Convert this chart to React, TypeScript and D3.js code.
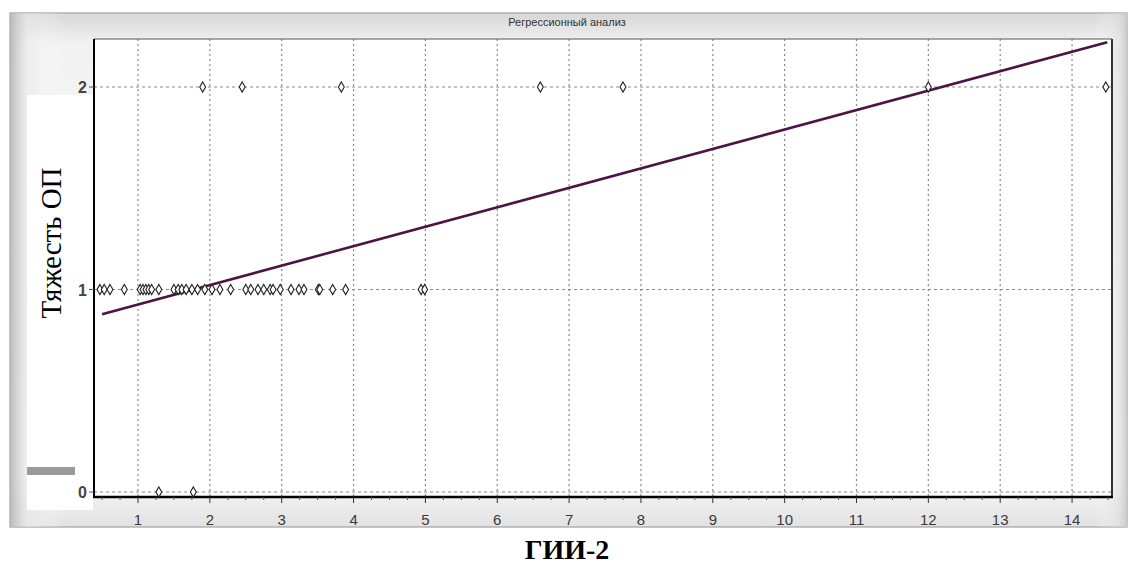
import React from "react";
import * as d3 from "d3";

const TITLE = "Регрессионный анализ";
const Y_LABEL = "Тяжесть ОП";
const X_LABEL = "ГИИ-2";

const xTicks = [1, 2, 3, 4, 5, 6, 7, 8, 9, 10, 11, 12, 13, 14];
const yTicks = [0, 1, 2];

const pointsY2 = [1.9, 2.45, 3.83, 6.6, 7.75, 12.0, 14.47];
const pointsY0 = [1.29, 1.77];
const pointsY1 = [
  0.47, 0.53, 0.61, 0.81, 1.03, 1.07, 1.11, 1.15, 1.19, 1.29, 1.5, 1.56, 1.61,
  1.67, 1.75, 1.83, 1.93, 2.03, 2.14, 2.29, 2.5, 2.57, 2.67, 2.75, 2.84, 2.88,
  2.98, 3.13, 3.24, 3.31, 3.51, 3.53, 3.71, 3.89, 4.94, 4.99,
];

const regIntercept = 0.83;
const regSlope = 0.096;
const regRange = [0.5, 14.49];

export default function App() {
  const left = 94, right = 1112, top = 39, bottom = 497;
  const x = d3.scaleLinear().domain([0.3876, 14.556]).range([left, right]);
  const y = d3.scaleLinear().domain([0, 2]).range([492, 87]);

  const pts = [
    ...pointsY1.map((v) => [v, 1]),
    ...pointsY2.map((v) => [v, 2]),
    ...pointsY0.map((v) => [v, 0]),
  ];
  const diamond = d3.symbol().type(d3.symbolDiamond).size(30)();
  const line = d3
    .line<number>()
    .x((d) => x(d))
    .y((d) => y(regIntercept + regSlope * d));

  const minorTicks: number[] = [];
  for (let v = 0.5; v <= 14.5; v += 0.25) {
    if (Math.abs(v - Math.round(v)) > 0.01) minorTicks.push(v);
  }

  return (
    <div style={{ position: "absolute", left: 0, top: 0 }}>
      <svg width={1135} height={580} style={{ display: "block", background: "#fff" }}>
        <defs>
          <linearGradient id="pv" x1="0" y1="0" x2="0" y2="1">
            <stop offset="0" stopColor="#d6d6d6" />
            <stop offset="0.06" stopColor="#f2f2f2" />
            <stop offset="0.9" stopColor="#fafafa" />
            <stop offset="1" stopColor="#e2e2e2" />
          </linearGradient>
          <linearGradient id="ph" x1="0" y1="0" x2="1" y2="0">
            <stop offset="0" stopColor="#b5b5b5" stopOpacity="0.9" />
            <stop offset="0.015" stopColor="#e8e8e8" stopOpacity="0.6" />
            <stop offset="0.05" stopColor="#ffffff" stopOpacity="0" />
            <stop offset="0.97" stopColor="#ffffff" stopOpacity="0" />
            <stop offset="0.993" stopColor="#dcdcdc" stopOpacity="0.6" />
            <stop offset="1" stopColor="#c8c8c8" stopOpacity="0.9" />
          </linearGradient>
        </defs>
        {/* panel */}
        <rect x={10} y={13} width={1117} height={514} fill="url(#pv)" stroke="#a0a0a0" strokeWidth={1.2} />
        <rect x={10} y={13} width={1117} height={514} fill="url(#ph)" />
        <text x={567} y={26} textAnchor="middle" fontFamily="Arial, 'Liberation Sans', sans-serif" fontSize={11} fill="#333">
          {TITLE}
        </text>
        {/* white overlay on left */}
        <rect x={27} y={95} width={66} height={415} fill="#fff" />
        <rect x={27} y={467} width={48} height={8} fill="#9a9a9a" />
        {/* plot area */}
        <rect x={left} y={top} width={right - left} height={bottom - top} fill="#fff" />
        {/* grid */}
        {xTicks.map((t) => (
          <line key={"gx" + t} x1={x(t)} x2={x(t)} y1={top} y2={bottom} stroke="#8a8a8a" strokeWidth={1.2} strokeDasharray="2,3" />
        ))}
        {yTicks.map((t) => (
          <line key={"gy" + t} x1={left} x2={right} y1={y(t)} y2={y(t)} stroke="#8a8a8a" strokeWidth={1.2} strokeDasharray="3,3" />
        ))}
        {/* frame */}
        <line x1={left} x2={right} y1={top} y2={top} stroke="#555" strokeWidth={1} />
        <line x1={right} x2={right} y1={top} y2={bottom} stroke="#333" strokeWidth={2} />
        <line x1={left} x2={left} y1={top} y2={bottom + 1} stroke="#000" strokeWidth={2} />
        <line x1={left - 1} x2={right + 1} y1={bottom} y2={bottom} stroke="#000" strokeWidth={2.5} />
        {/* x ticks */}
        {xTicks.map((t) => (
          <g key={"xt" + t}>
            <line x1={x(t)} x2={x(t)} y1={bottom} y2={bottom + 6} stroke="#333" strokeWidth={1} />
            <text x={x(t)} y={525} textAnchor="middle" fontFamily="Arial, 'Liberation Sans', sans-serif" fontSize={15} fill="#3a3a3a">
              {t}
            </text>
          </g>
        ))}
        {minorTicks.map((t, i) => (
          <line key={"mt" + i} x1={x(t)} x2={x(t)} y1={bottom} y2={bottom + 3} stroke="#555" strokeWidth={1} />
        ))}
        {/* y ticks */}
        {yTicks.map((t) => (
          <g key={"yt" + t}>
            <line x1={left - 5} x2={left} y1={y(t)} y2={y(t)} stroke="#555" strokeWidth={1} />
            <text x={left - 7} y={y(t) + 6} textAnchor="end" fontFamily="Arial, 'Liberation Sans', sans-serif" fontSize={16} fontWeight="bold" fill="#444">
              {t}
            </text>
          </g>
        ))}
        {/* regression line */}
        <path d={line(regRange) || ""} fill="none" stroke="#4a1446" strokeWidth={2.6} />
        {/* points */}
        {pts.map((p, i) => (
          <path key={"p" + i} d={diamond || ""} transform={`translate(${x(p[0])},${y(p[1])})`} fill="#fff" stroke="#222" strokeWidth={1.1} />
        ))}
        {/* y label */}
        <text transform="translate(61,243) rotate(-90)" textAnchor="middle" fontFamily="'Liberation Serif', 'DejaVu Serif', serif" fontSize={29} fill="#000">
          {Y_LABEL}
        </text>
        {/* x label */}
        <text x={567} y={559} textAnchor="middle" fontFamily="'Liberation Serif', 'DejaVu Serif', serif" fontSize={28} fontWeight="bold" fill="#000">
          {X_LABEL}
        </text>
      </svg>
    </div>
  );
}
